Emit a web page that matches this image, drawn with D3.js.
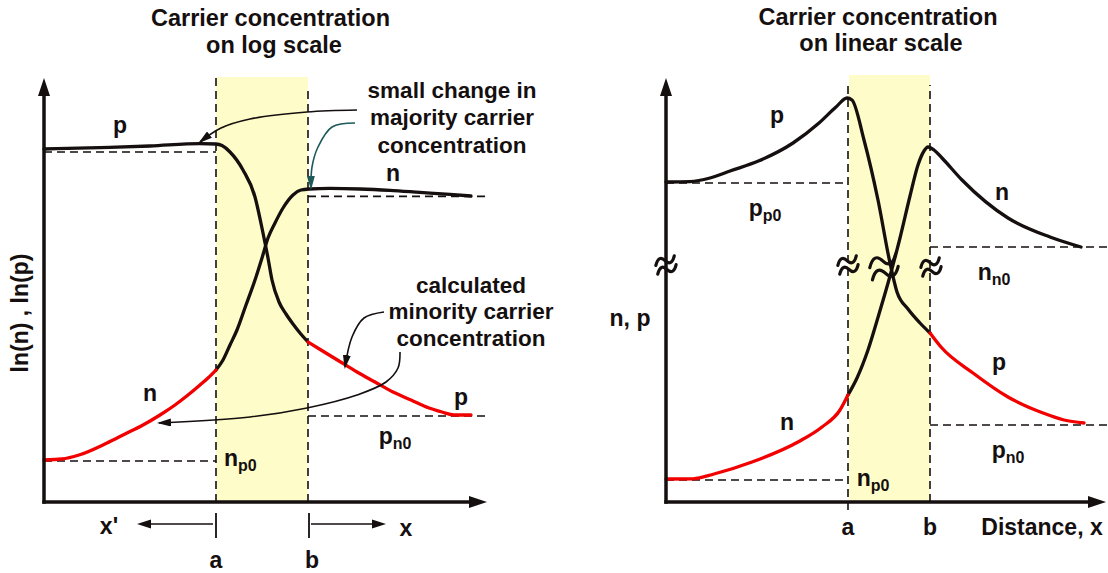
<!DOCTYPE html>
<html><head><meta charset="utf-8">
<script src="https://cdn.jsdelivr.net/npm/d3@7"></script>
<style>
html,body{margin:0;padding:0;background:#fff;}
svg{display:block;font-family:"Liberation Sans",Arial,sans-serif;font-weight:bold;}
</style></head>
<body><svg id="c" width="1108" height="573"></svg>
<script>
// ---------- data (distance units, concentration units) ----------
// Left panel: log scale
const logMajP = [[0,88.25],[14,88.6],[26.5,89],[39,89.6],[43,89.5],[44.5,89.1],[46.5,87.5],[49.75,83],[52.75,76.25],[54.75,67.25],[56,61],[57,55.5],[58.75,50],[60.5,47],[62.25,44.5],[64,42.25],[66,40]];
const logMinP = [[66,40],[69.25,38],[73.75,35.25],[78.25,32.5],[82.75,30],[87.25,27.5],[91.75,25.5],[96.25,23.5],[99.5,22.5],[102.5,21.75],[106.75,21.75]];
const logMajN = [[43,33],[44.75,35.5],[46.5,39.25],[48.25,43],[50.5,49.25],[52.75,55.5],[54.5,61],[56,66],[57.75,69.75],[59.75,73.5],[62.25,76.75],[64.25,78],[66.25,78.25],[71.5,78.4],[79,78.25],[86.5,77.9],[94,77.4],[101.5,76.9],[106.75,76.5]];
const logMinN = [[0,10.5],[4.5,10.75],[8.75,11.75],[15.75,14.75],[20.25,17],[24.75,19.25],[29,21.75],[32.75,24.25],[36,26.75],[39,29.25],[41,31],[43,33]];
const logEdges = [43, 66];            // a, b
const logEquil = {pp0: 87.5, nn0: 76.4, np0: 10.25, pn0: 21.5};

// Right panel: linear scale
const linMajP = [[0,80],[6,80.1],[11,81],[16,82.75],[23.25,85.3],[31.75,89.75],[38.25,94.75],[42.5,98.75],[45.25,101],[46.5,100.5],[49.5,90.5],[53,75.5],[56,59.75],[57.75,52.5],[60.5,48.25],[63.5,44.75],[66,42.25]];
const linMinP = [[66,42.25],[68.75,38.75],[76.75,32.25],[85.5,26.25],[94.25,22.25],[99.5,20.5],[104.5,19.75]];
const linMinN = [[0,5.75],[6.75,5.8],[12,7],[21.5,10],[33,15],[39,18.75],[43.5,23],[45.5,26.75]];
const linMajN = [[45.5,26.75],[47.75,31],[50.5,38],[53.25,47],[56,56.5],[58.5,66],[61,76.5],[63,84.25],[64.5,87.75],[65.5,88.75],[67,88],[69,86],[74,80.5],[85.5,71],[96,66.25],[103.75,63.75]];
const linEdges = [45.5, 66];
const linEquil = {pp0: 79.75, nn0: 63.75, np0: 5.5, pn0: 19.25};

// annotation leader paths (left panel units)
const annMajority1 = [[78.25,98],[65.75,97.5],[51.5,95.75],[44.25,93.5],[39,90]];
const annMajority2 = [[77.75,94.75],[72,93.75],[68.5,88.75],[67,83.75],[66.75,78.5]];
const annMinority1 = [[85,47.5],[80,46],[77,41.25],[75.25,33.75]];
const annMinority2 = [[89,37.5],[88.5,33.5],[85.5,30],[78.25,26.75],[65.75,23.5],[51.5,21.25],[28.75,19.75]];

const titles = [["Carrier concentration","on log scale"],["Carrier concentration","on linear scale"]];
const noteMajority = ["small change in","majority carrier","concentration"];
const noteMinority = ["calculated","minority carrier","concentration"];

// ---------- drawing ----------
const INK = '#150f0f', RED = '#f20000', TEAL = '#1e5a5a', BAND = '#fefcc8';
const svg = d3.select('#c');
const yS = d3.scaleLinear().domain([0,100]).range([502,102]);
const xL = d3.scaleLinear().domain([0,100]).range([44,444]);
const xR = d3.scaleLinear().domain([0,100]).range([666,1066]);

const defs = svg.append('defs');
function marker(id, color){
  defs.append('marker').attr('id',id).attr('viewBox','0 0 14 8').attr('refX',12).attr('refY',4)
    .attr('markerWidth',14).attr('markerHeight',8).attr('markerUnits','userSpaceOnUse').attr('orient','auto')
    .append('path').attr('d','M0,0 L14,4 L0,8 Z').attr('fill',color);
}
marker('ah', INK); marker('aht', TEAL);

const gBand = svg.append('g'), gDash = svg.append('g'), gCurve = svg.append('g'), gAx = svg.append('g'), gTxt = svg.append('g');

function lineGen(xs, c){ return d3.line().x(d=>xs(d[0])).y(d=>yS(d[1])).curve(c); }
function curve(xs, data, color){
  gCurve.append('path').attr('d', lineGen(xs, d3.curveMonotoneX)(data)).attr('fill','none').attr('stroke',color)
    .attr('stroke-width',3.3).attr('stroke-linecap','round').attr('stroke-linejoin','round');
}
function leader(xs, data, color, mk){
  gCurve.append('path').attr('d', lineGen(xs, d3.curveCatmullRom.alpha(0.5))(data)).attr('fill','none').attr('stroke',color)
    .attr('stroke-width',1.6).attr('marker-end',`url(#${mk})`);
}
function dash(x1,y1,x2,y2){
  gDash.append('line').attr('x1',x1).attr('y1',y1).attr('x2',x2).attr('y2',y2)
    .attr('stroke',INK).attr('stroke-width',1.6).attr('stroke-dasharray','8,5');
}
function arrow(x1,y1,x2,y2,len,hw,w){
  const a = Math.atan2(y2-y1,x2-x1), c=Math.cos(a), s=Math.sin(a);
  gAx.append('line').attr('x1',x1).attr('y1',y1).attr('x2',x2-c*len*0.6).attr('y2',y2-s*len*0.6)
    .attr('stroke',INK).attr('stroke-width',w);
  const bx = x2-c*len, by = y2-s*len;
  gAx.append('path').attr('d',`M${x2},${y2} L${bx-s*hw},${by+c*hw} L${bx+s*hw},${by-c*hw} Z`).attr('fill',INK);
}
function txt(x,y,str,size,anchor){
  return gTxt.append('text').attr('x',x).attr('y',y).attr('font-size',size||23).attr('fill',INK)
    .attr('text-anchor',anchor||'middle').attr('dominant-baseline','central').text(str);
}
function sub(x,y,main,s,anchor){
  const t = gTxt.append('text').attr('x',x).attr('y',y).attr('font-size',23).attr('fill',INK)
    .attr('text-anchor',anchor||'middle').attr('dominant-baseline','central');
  t.append('tspan').text(main);
  t.append('tspan').attr('font-size',16).attr('dy',7).text(s);
}
function breakMark(x,y,k){
  const g = gTxt.append('g').attr('transform',`translate(${x},${y}) scale(${k}) rotate(-12)`);
  [-4.5,4.5].forEach(o=>g.append('path').attr('d',`M-10,${o+2.8} C-6.5,${o-4.5} -3,${o-4.5} 0,${o} S6.5,${o+4.5} 10,${o-2.8}`)
    .attr('fill','none').attr('stroke',INK).attr('stroke-width',3.2/k).attr('stroke-linecap','round'));
}

// ---- Left panel ----
gBand.append('rect').attr('x',xL(logEdges[0])).attr('y',yS(106.25)).attr('width',xL(logEdges[1])-xL(logEdges[0]))
  .attr('height',yS(0)-yS(106.25)).attr('fill',BAND);
dash(xL(logEdges[0]),yS(0),xL(logEdges[0]),yS(106));
dash(xL(logEdges[1]),yS(0),xL(logEdges[1]),yS(103.5));
dash(xL(0),yS(logEquil.pp0),xL(logEdges[0]),yS(logEquil.pp0));
dash(xL(logEdges[1]),yS(logEquil.nn0),xL(110.5),yS(logEquil.nn0));
dash(xL(0),yS(logEquil.np0),xL(logEdges[0]),yS(logEquil.np0));
dash(xL(logEdges[1]),yS(logEquil.pn0),xL(110.5),yS(logEquil.pn0));

curve(xL, logMajP, INK);
curve(xL, logMajN, INK);
curve(xL, logMinP, RED);
curve(xL, logMinN, RED);

leader(xL, annMajority1, INK, 'ah');
leader(xL, annMajority2, TEAL, 'aht');
leader(xL, annMinority1, INK, 'ah');
leader(xL, annMinority2, INK, 'ah');

arrow(xL(0), yS(0)+1.7, xL(0), yS(106), 18, 6, 3.5);
arrow(xL(0)-1.7, yS(0), xL(110.75), yS(0), 18, 6, 3.5);
// x' and x markers below axis
[logEdges[0], logEdges[1]+0.25].forEach(u=>gAx.append('line').attr('x1',xL(u)).attr('x2',xL(u))
  .attr('y1',yS(-2.75)).attr('y2',yS(-9)).attr('stroke',INK).attr('stroke-width',1.8));
arrow(xL(42.25), yS(-5.5), xL(23.25), yS(-5.5), 14, 4.5, 1.6);
arrow(xL(66.75), yS(-5.5), xL(85.5), yS(-5.5), 14, 4.5, 1.6);

txt(270.5,18,titles[0][0],23.5); txt(274,45,titles[0][1],23.5);
txt(xL(19), yS(94.25), 'p');
txt(xL(87.25), yS(82.25), 'n');
txt(xL(26.5), yS(27.25), 'n');
txt(xL(104.25), yS(26.25), 'p');
sub(xL(87.75), yS(16.5), 'p', 'n0');
sub(xL(45), yS(11), 'n', 'p0', 'start');
txt(xL(16.25), yS(-6), "x'");
txt(xL(90.5), yS(-6.5), 'x');
txt(xL(43), yS(-14.5), 'a');
txt(xL(67), yS(-14.5), 'b');
noteMajority.forEach((s,i)=>txt(452, 90+i*27.5, s, 22.5));
noteMinority.forEach((s,i)=>txt(471, 285+i*26.5, s, 22.5));
txt(20, 313, 'ln(n) , ln(p)', 23).attr('transform','rotate(-90,20,313)');

// ---- Right panel ----
gBand.append('rect').attr('x',xR(linEdges[0])+1).attr('y',yS(106.75)).attr('width',xR(linEdges[1])-xR(linEdges[0])-1)
  .attr('height',yS(0)-yS(106.75)).attr('fill',BAND);
dash(xR(linEdges[0]),yS(-2),xR(linEdges[0]),yS(104.75));
dash(xR(linEdges[1]),yS(0),xR(linEdges[1]),yS(104.25));
dash(xR(0),yS(linEquil.pp0),xR(linEdges[0]),yS(linEquil.pp0));
dash(xR(linEdges[1]),yS(linEquil.nn0),xR(110.25),yS(linEquil.nn0));
dash(xR(0),yS(linEquil.np0),xR(linEdges[0]),yS(linEquil.np0));
dash(xR(linEdges[1]),yS(linEquil.pn0),xR(110.25),yS(linEquil.pn0));

curve(xR, linMajP, INK);
curve(xR, linMajN, INK);
curve(xR, linMinP, RED);
curve(xR, linMinN, RED);

arrow(xR(0), yS(0)+1.7, xR(0), yS(106), 18, 6, 3.5);
arrow(xR(0)-1.7, yS(0), xR(110), yS(0), 18, 6, 3.5);

breakMark(xR(0), yS(59.25), 1);
breakMark(xR(linEdges[0]), yS(59.25), 1);
breakMark(xR(54.5), yS(58.75), 1.4);
breakMark(xR(linEdges[1]+0.25), yS(58.75), 1);

txt(878,17,titles[1][0],23.5); txt(881,43,titles[1][1],23.5);
txt(xR(27.75), yS(96.75), 'p');
sub(xR(24.75), yS(73.5), 'p', 'p0');
txt(xR(84), yS(77.5), 'n');
sub(xR(82), yS(57.5), 'n', 'n0');
txt(630, 318, 'n, p');
txt(xR(30.25), yS(20), 'n');
txt(xR(83.25), yS(35), 'p');
sub(xR(85.5), yS(13), 'p', 'n0');
sub(xR(51.75), yS(6), 'n', 'p0');
txt(xR(linEdges[0]), yS(-6.25), 'a');
txt(xR(linEdges[1]), yS(-6.25), 'b');
txt(1042, yS(-6.25), 'Distance,  x');
</script></body></html>
